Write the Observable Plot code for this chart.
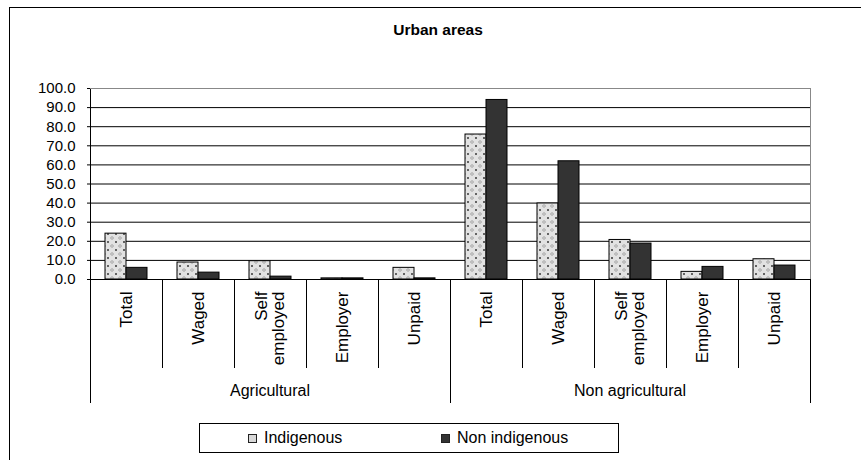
<!DOCTYPE html>
<html>
<head>
<meta charset="utf-8">
<script src="https://cdn.jsdelivr.net/npm/d3@7"></script>
<script src="https://cdn.jsdelivr.net/npm/@observablehq/plot@0.6"></script>
<style>
  body { margin: 0; background: #fff; font-family: Arial, "Liberation Sans", sans-serif; }
  #chart { position: relative; width: 861px; height: 460px; overflow: hidden; background: #fff; }
  #border { position: absolute; left: 9px; top: 7px; width: 1000px; height: 600px;
            border-left: 1px solid #000; border-top: 1px solid #000; }
  #title { position: absolute; left: 438px; top: 21px; transform: translateX(-50%);
           font-weight: bold; font-size: 15.5px; white-space: nowrap; color: #000; }
  #plot { position: absolute; left: 0; top: 0; }
  #legend { position: absolute; left: 199px; top: 423px; width: 418px; height: 28px;
            border: 1px solid #000; background: #fff; font-size: 16px; }
  .item { position: absolute; top: 50%; transform: translateY(-50%); display: flex; align-items: center; white-space: nowrap; }
  .swatch { width: 7px; height: 7px; border: 1px solid #222; margin-right: 7px; }
</style>
</head>
<body>
<div id="chart">
  <div id="border"></div>
  <div id="title">Urban areas</div>
  <div id="plot"></div>
  <div id="legend"></div>
</div>
<script>
// Employment structure by sector and occupational category, urban areas (%)
const groups = ["Agricultural", "Non agricultural"];
const categories = ["Total", "Waged", "Self employed", "Employer", "Unpaid"];
const categoryLabels = ["Total", "Waged", "Self\nemployed", "Employer", "Unpaid"];
const seriesNames = ["Indigenous", "Non indigenous"];
const indigenous    = [24.0, 8.9, 9.6, 0.6, 6.1, 75.9, 39.8, 20.7, 4.0, 10.6];
const nonIndigenous = [ 6.1, 3.6, 1.5, 0.6, 0.6, 94.0, 61.9, 18.8, 6.6,  7.3];
const yTicks = [0, 10, 20, 30, 40, 50, 60, 70, 80, 90, 100];

// one facet per (group, category)
const columns = groups.flatMap(g => categories.map((c, i) => ({
  key: g + " · " + c, group: g, label: categoryLabels[i]
})));
const keys = columns.map(d => d.key);
const rows = columns.flatMap((col, i) => [
  {key: col.key, series: seriesNames[0], value: indigenous[i]},
  {key: col.key, series: seriesNames[1], value: nonIndigenous[i]}
]);

const patternFill = "url(#dots)";
const darkFill = "#333333";

const plot = Plot.plot({
  width: 861,
  height: 410,
  marginLeft: 88,
  marginRight: 50,
  marginTop: 88,
  marginBottom: 131,
  style: {fontFamily: "Arial, 'Liberation Sans', sans-serif", fontSize: "15px", background: "transparent", color: "#000"},
  fx: {domain: keys, padding: 0, axis: null},
  x: {domain: seriesNames, paddingInner: 0, paddingOuter: 0.68, axis: null},
  y: {domain: [0, 100], ticks: yTicks, tickFormat: d3.format(".1f"), tickSize: 3, tickPadding: 12, label: null, line: true},
  marks: [
    Plot.ruleY(yTicks.filter(t => t > 0 && t < 100), {stroke: "#000", strokeOpacity: 1}),
    Plot.ruleY([100], {stroke: "#888"}),
    Plot.barY(rows.filter(d => d.series === seriesNames[0]), {fx: "key", x: "series", y: "value", fill: patternFill, stroke: "#000", strokeWidth: 1}),
    Plot.barY(rows.filter(d => d.series === seriesNames[1]), {fx: "key", x: "series", y: "value", fill: darkFill, stroke: "#000", strokeWidth: 1}),
    Plot.ruleY([0], {stroke: "#000"}),
    Plot.text(columns, {fx: "key", text: "label", frameAnchor: "bottom", rotate: -90, textAnchor: "end", lineAnchor: "middle", dy: 12, fontSize: 17, fill: "#000"})
  ]
});

document.getElementById("plot").appendChild(plot);

// dotted fill for the Indigenous bars
const svg = d3.select(plot);
const pat = svg.insert("defs", ":first-child").append("pattern")
  .attr("id", "dots").attr("patternUnits", "userSpaceOnUse")
  .attr("width", 8).attr("height", 8);
pat.append("rect").attr("width", 8).attr("height", 8).attr("fill", "#e2e2e2");
pat.append("path").attr("d", "M1,1L3,3M3,1L1,3").attr("stroke", "#555").attr("stroke-width", 0.9).attr("fill", "none");
pat.append("path").attr("d", "M6,4.5L7.5,6L6,7.5L4.5,6Z").attr("stroke", "#888").attr("stroke-width", 0.8).attr("fill", "none");

// category separators, group separators and group labels below the axis
const fx = plot.scale("fx");
const ys = plot.scale("y");
const y0 = ys.apply(0), yTop = ys.apply(100);
const bw = fx.bandwidth;
const innerDrop = 89, groupDrop = 124;
const g = svg.append("g").attr("stroke", "#000").attr("stroke-width", 1);
columns.forEach((col, i) => {
  const x = Math.round(fx.apply(col.key)) + 0.5;
  const isGroupStart = i % categories.length === 0;
  g.append("line").attr("x1", x).attr("x2", x).attr("y1", y0).attr("y2", y0 + (isGroupStart ? groupDrop : innerDrop));
});
const xEnd = Math.round(fx.apply(keys[keys.length - 1]) + bw) + 0.5;
g.append("line").attr("x1", xEnd).attr("x2", xEnd).attr("y1", y0).attr("y2", y0 + groupDrop);
g.append("line").attr("x1", xEnd).attr("x2", xEnd).attr("y1", yTop).attr("y2", y0).attr("stroke", "#888");

groups.forEach(grp => {
  const ks = columns.filter(c => c.group === grp).map(c => c.key);
  const cx = (fx.apply(ks[0]) + fx.apply(ks[ks.length - 1]) + bw) / 2;
  svg.append("text").attr("x", cx).attr("y", y0 + 117).attr("text-anchor", "middle")
    .attr("font-size", 16).attr("fill", "#000").text(grp);
});

// legend
const legend = d3.select("#legend");
const legendItems = [
  {name: seriesNames[0], left: 48, swatch: "#d8d8d8"},
  {name: seriesNames[1], left: 241, swatch: darkFill}
];
legendItems.forEach(it => {
  const item = legend.append("div").attr("class", "item").style("left", it.left + "px");
  item.append("div").attr("class", "swatch").style("background", it.swatch);
  item.append("span").text(it.name);
});
</script>
</body>
</html>
